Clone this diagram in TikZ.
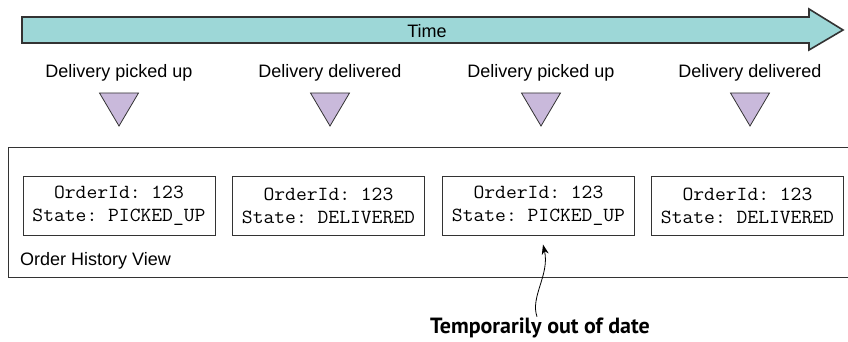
\documentclass[tikz,border=0pt]{standalone}
\usepackage{fontspec}
\setmainfont{Liberation Sans}
\setmonofont[FakeStretch=1.05]{Latin Modern Mono}
\newfontfamily\calloutfont{PT Sans}
\usetikzlibrary{arrows.meta,calc}
\definecolor{timefill}{HTML}{9DD7D7}
\definecolor{evfill}{HTML}{C9B9DB}
\definecolor{edge}{HTML}{333333}
\begin{document}
\begin{tikzpicture}[x=1pt,y=-1pt,
  lbl/.style={font=\fontsize{18}{21}\selectfont, inner sep=0pt},
  statebox/.style={draw=edge, line width=1pt, minimum width=192pt, minimum height=59pt,
    align=center, font=\ttfamily\fontsize{20}{23}\selectfont, inner sep=0pt},
  evtri/.style={draw=edge, fill=evfill, line width=0.8pt, line join=miter},
]
\useasboundingbox (0,0) rectangle (848,342);
% time arrow
\draw[draw=edge, line width=1.6pt, fill=timefill, line join=miter]
  (22,17) -- (809,17) -- (809,9) -- (843,30) -- (809,50) -- (809,43) -- (22,43) -- cycle;
\node[lbl] (time) at (427,31) {Time};
% events
\foreach \n/\x/\t in {1/119/Delivery picked up, 2/330/Delivery delivered, 3/541/Delivery picked up, 4/750/Delivery delivered}{
  \node[lbl] (e\n) at (\x,73) {\t};
  \draw[evtri] ($(e\n)+(-19.5,20)$) -- ($(e\n)+(19.5,20)$) -- ($(e\n)+(0,53)$) -- cycle;
}
% view frame
\draw[edge, line width=1pt] (852,147) -- (8,147) -- (8,277) -- (852,277);
\node[lbl, anchor=west] (view) at (20,261) {Order History View};
% state boxes
\node[statebox] (b1) at (119,205.5) {OrderId: 123\\State: PICKED\_UP};
\node[statebox] (b2) at (328.5,205.5) {OrderId: 123\\State: DELIVERED};
\node[statebox] (b3) at (538.5,205.5) {OrderId: 123\\State: PICKED\_UP};
\node[statebox] (b4) at (747.5,205.5) {OrderId: 123\\State: DELIVERED};
% callout
\node[font=\calloutfont\bfseries\fontsize{22}{24}\selectfont, inner sep=0pt] (note) at (540,328) {Temporarily out of date};
\draw[line width=0.8pt, -{Stealth[length=10pt,width=7pt]}]
  ($(note.north)+(-3,-1)$) .. controls +(-7,-20) and +(7,30) .. ($(b3.south)+(4.5,9)$);
\end{tikzpicture}
\end{document}
